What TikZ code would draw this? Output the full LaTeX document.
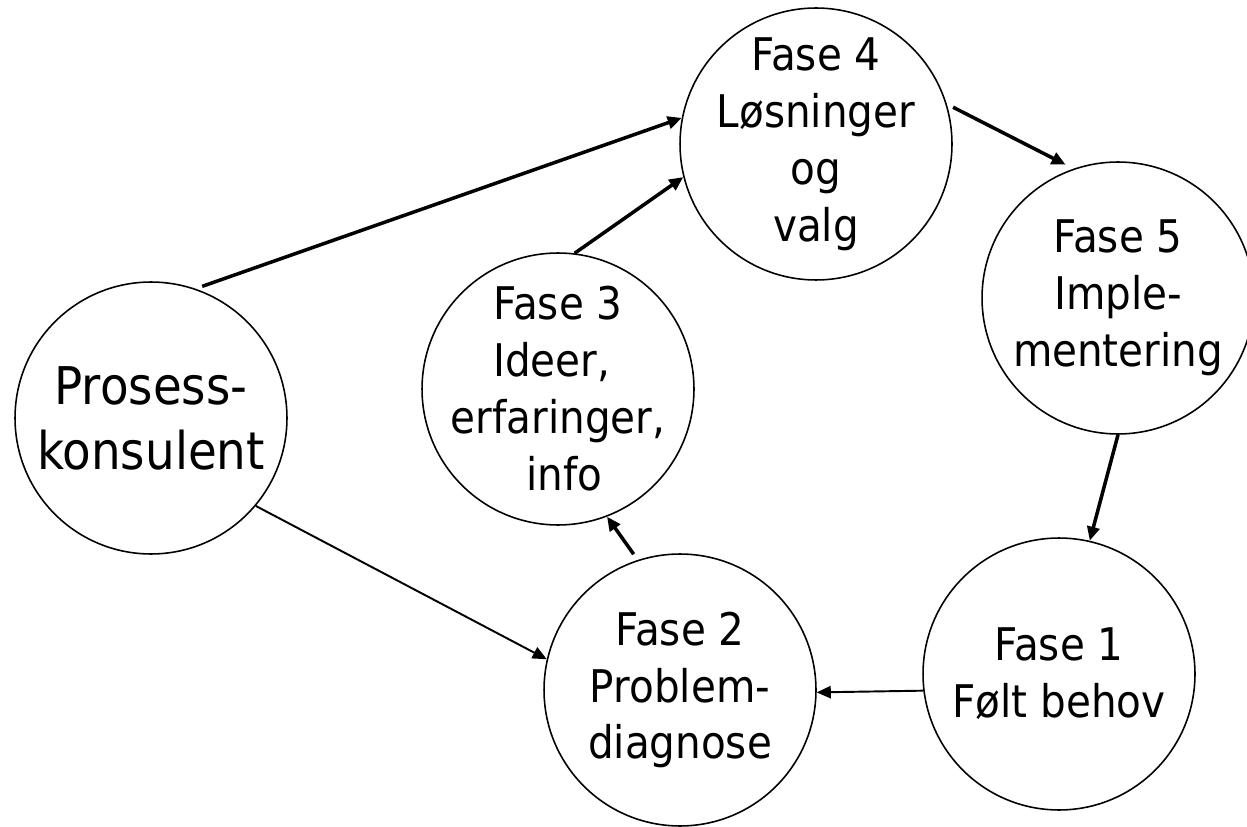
\documentclass[tikz,border=0pt]{standalone}
\usepackage{fontspec}
\setmainfont[FakeStretch=0.9]{DejaVu Sans}
\usetikzlibrary{arrows.meta}
\begin{document}
\begin{tikzpicture}[x=0.02cm, y=-0.02cm,
        fase/.style={draw, circle, minimum size=5.44cm, line width=0.9pt, inner sep=0pt},
        txt/.style={align=center, font=\fontsize{25.6}{32.4}\selectfont},
        stor/.style={align=center, font=\fontsize{29.6}{37}\selectfont},
        pil/.style={-{Triangle[length=8pt, width=7pt]}, line width=2pt},
        tynn/.style={-{Triangle[length=8pt, width=7pt]}, line width=1.1pt}]
            \useasboundingbox (0,0) rectangle (1247,827);
            % sirklene
            \node[fase] (pk) at (151,418) {};
            \node[fase] (f4) at (816,144) {};
            \node[fase] (f5) at (1118,298) {};
            \node[fase] (f3) at (558,389) {};
            \node[fase] (f2) at (680,690) {};
            \node[fase] (f1) at (1059,674) {};
            \node[stor] at (pk) {Prosess-\\konsulent};
            \node[txt] at (f4) {Fase 4\\Løsninger\\og\\valg};
            \node[txt] at (f5) {Fase 5\\Imple-\\mentering};
            \node[txt] at (f3) {Fase 3\\\mbox{Ideer,\ }\\erfaringer,\\\mbox{\ info}};
            \node[txt] at (f2) {Fase 2\\Problem-\\diagnose};
            \node[txt] at (f1) {Fase 1\\Følt behov};
            % piler
            \draw[pil, shorten <=4pt] (pk.71) -- (f4.169);
            \draw[tynn] (pk.-40) -- (f2.167);
            \draw[pil] (f3.83) -- (f4.194);
            \draw[pil, shorten <=4pt] (f2.108) -- (f3.-69);
            \draw[pil, shorten <=4pt, shorten >=5pt] (f4.17) -- (f5.109);
            \draw[pil] (f5.-90) -- (f1.77);
            \draw[tynn] (f1.187) -- (f2.-1);
        \end{tikzpicture}
\end{document}
